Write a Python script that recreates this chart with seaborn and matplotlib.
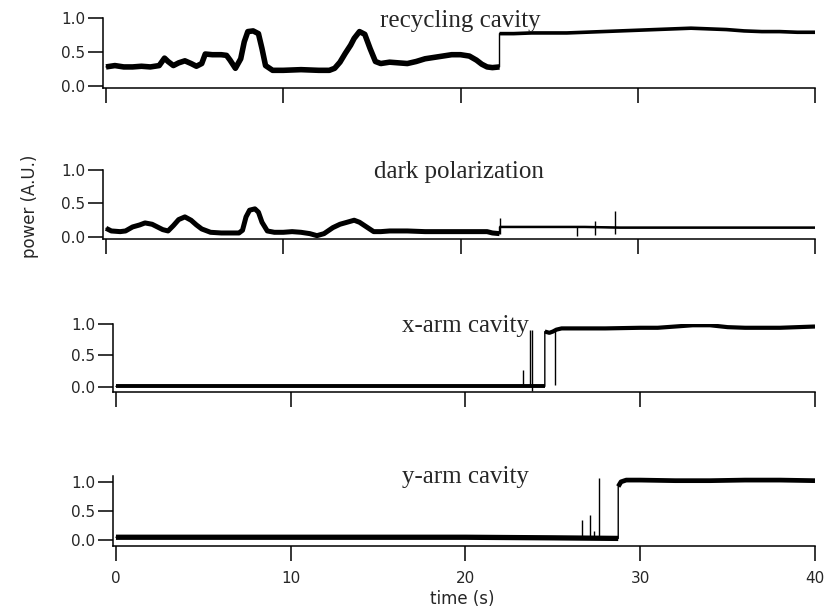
import numpy as np
import matplotlib.pyplot as plt
import seaborn as sns

# (time s, power A.U.); "before" = unlocked, "after" = locked
recycling_before = [(0, 0.28), (0.5, 0.30), (1.0, 0.28), (1.5, 0.28), (2.0, 0.29), (2.5, 0.28),
                    (3.0, 0.30), (3.3, 0.41), (3.5, 0.36), (3.8, 0.30), (4.1, 0.34), (4.45, 0.37),
                    (4.8, 0.33), (5.1, 0.29), (5.4, 0.33), (5.6, 0.47), (6.0, 0.46), (6.5, 0.46),
                    (6.8, 0.45), (7.0, 0.38), (7.3, 0.26), (7.6, 0.40), (7.8, 0.65), (8.0, 0.80),
                    (8.3, 0.81), (8.6, 0.77), (8.8, 0.55), (9.0, 0.30), (9.4, 0.23), (10, 0.23),
                    (11, 0.24), (12, 0.23), (12.6, 0.23), (12.9, 0.26), (13.2, 0.35), (13.5, 0.48),
                    (13.8, 0.60), (14.0, 0.70), (14.3, 0.80), (14.6, 0.76), (14.9, 0.55),
                    (15.2, 0.36), (15.5, 0.33), (16.0, 0.35), (16.5, 0.34), (17.0, 0.33),
                    (17.5, 0.36), (18.0, 0.40), (18.5, 0.42), (19.0, 0.44), (19.5, 0.46),
                    (20.0, 0.46), (20.5, 0.44), (20.9, 0.38), (21.2, 0.32), (21.5, 0.28),
                    (21.8, 0.27), (22.2, 0.28)]
recycling_after = [(22.2, 0.77), (23, 0.77), (24, 0.78), (25, 0.78), (26, 0.78), (27, 0.79),
                   (28, 0.80), (29, 0.81), (30, 0.82), (31, 0.83), (32, 0.84), (33, 0.85),
                   (34, 0.84), (35, 0.83), (36, 0.81), (37, 0.80), (38, 0.80), (39, 0.79), (40, 0.79)]
recycling_spikes = []

dark_before = [(0, 0.13), (0.3, 0.09), (0.8, 0.08), (1.1, 0.09), (1.5, 0.15), (1.9, 0.18),
               (2.2, 0.21), (2.6, 0.19), (2.9, 0.15), (3.2, 0.11), (3.5, 0.09), (3.8, 0.17),
               (4.1, 0.26), (4.45, 0.30), (4.8, 0.25), (5.1, 0.18), (5.4, 0.12), (5.9, 0.07),
               (6.5, 0.06), (7.0, 0.06), (7.5, 0.06), (7.7, 0.10), (7.9, 0.30), (8.1, 0.40),
               (8.4, 0.42), (8.6, 0.37), (8.8, 0.22), (9.1, 0.09), (9.5, 0.07), (10, 0.07),
               (10.5, 0.08), (11, 0.07), (11.5, 0.05), (11.9, 0.02), (12.3, 0.05), (12.8, 0.14),
               (13.2, 0.19), (13.6, 0.22), (14.0, 0.25), (14.3, 0.22), (14.7, 0.15), (15.1, 0.08),
               (15.5, 0.08), (16, 0.09), (17, 0.09), (18, 0.08), (19, 0.08), (20, 0.08),
               (21, 0.08), (21.5, 0.08), (21.8, 0.06), (22.2, 0.05)]
dark_after = [(22.2, 0.15), (23, 0.15), (25, 0.15), (27, 0.15), (29, 0.14), (31, 0.14),
              (33, 0.14), (35, 0.14), (37, 0.14), (40, 0.14)]
# (time, low, high)
dark_spikes = [(22.2, 0.05, 0.28), (26.55, 0.02, 0.15), (27.6, 0.03, 0.24), (28.7, 0.05, 0.39)]

xarm_before = [(0, 0.01), (5, 0.01), (10, 0.01), (15, 0.01), (20, 0.01), (23, 0.01), (24.54, 0.01)]
xarm_after = [(24.54, 0.88), (24.8, 0.86), (25.0, 0.88), (25.2, 0.91), (25.5, 0.93), (26, 0.93),
              (28, 0.93), (30, 0.94), (31, 0.94), (32, 0.96), (33, 0.98), (34, 0.98), (35, 0.95),
              (36, 0.94), (38, 0.94), (40, 0.96)]
xarm_spikes = [(23.3, 0.01, 0.27), (23.7, 0.01, 0.90), (23.8, -0.06, 0.91), (25.1, 0.03, 0.90)]

yarm_before = [(0, 0.05), (5, 0.05), (10, 0.05), (15, 0.05), (20, 0.05), (25, 0.04), (28.74, 0.03)]
yarm_after = [(28.74, 0.92), (28.9, 1.00), (29.2, 1.03), (30, 1.03), (32, 1.02), (34, 1.02),
              (36, 1.03), (38, 1.03), (40, 1.02)]
yarm_spikes = [(26.64, 0.04, 0.34), (27.12, 0.04, 0.43), (27.37, 0.04, 0.15), (27.63, 0.04, 1.06)]

titles = ['recycling cavity', 'dark polarization', 'x-arm cavity', 'y-arm cavity']
x_ticks = [0, 10, 20, 30, 40]
y_ticks = [0.0, 0.5, 1.0]

sns.set_style('ticks')
plt.rcParams['font.family'] = ['DejaVu Sans']

W, H = 835, 611
fig = plt.figure(figsize=(W / 100, H / 100), dpi=100)


def rect(left, right, top, bottom):
    return [left / W, 1 - bottom / H, (right - left) / W, (bottom - top) / H]


panels = [
    (recycling_before, recycling_after, recycling_spikes, rect(103, 815, 18, 88), (-0.03, 1.0), 4.0, 2.6),
    (dark_before, dark_after, dark_spikes, rect(103, 815, 170, 239), (-0.03, 1.0), 3.6, 1.8),
    (xarm_before, xarm_after, xarm_spikes, rect(113, 815, 324, 392), (-0.08, 1.0), 2.8, 3.0),
    (yarm_before, yarm_after, yarm_spikes, rect(113, 815, 476, 546), (-0.10, 1.1), 3.8, 3.4),
]
title_pos = [(460, 26.7), (459, 178.5), (465, 331.7), (465, 483.3)]

for i, (before, after, spikes, r, ylim, lw_b, lw_a) in enumerate(panels):
    ax = fig.add_axes(r)
    t_b, v_b = zip(*before)
    t_a, v_a = zip(*after)
    # thin full trace (gives the thin vertical step), then thick noisy bands
    sns.lineplot(x=list(t_b) + list(t_a), y=list(v_b) + list(v_a), ax=ax, color='black',
                 linewidth=1.0, estimator=None, sort=False)
    sns.lineplot(x=t_b, y=v_b, ax=ax, color='black', linewidth=lw_b, estimator=None,
                 sort=False, solid_capstyle='butt')
    sns.lineplot(x=t_a, y=v_a, ax=ax, color='black', linewidth=lw_a, estimator=None,
                 sort=False, solid_capstyle='butt')
    if spikes:
        st, lo, hi = zip(*spikes)
        ax.vlines(st, lo, hi, color='black', linewidth=1.0)

    ax.set_xlim(-0.17, 40)
    ax.set_ylim(*ylim)
    ax.set_xticks(x_ticks)
    ax.set_yticks(y_ticks)
    ax.set_yticklabels([f'{v:.1f}' for v in y_ticks], fontsize=11)
    if i == 3:
        ax.set_xticklabels([str(v) for v in x_ticks], fontsize=11)
    else:
        ax.set_xticklabels([])
    ax.tick_params(axis='both', direction='out', length=10.8, width=1.1, color='black')
    ax.tick_params(axis='y', pad=2)
    ax.tick_params(axis='x', pad=7)
    ax.set_xlabel('')
    ax.set_ylabel('')
    sns.despine(ax=ax)
    for s in ['left', 'bottom']:
        ax.spines[s].set_linewidth(1.1)
        ax.spines[s].set_color('black')
    ax.patch.set_alpha(0)

    tx, ty = title_pos[i]
    fig.text(tx / W, 1 - ty / H, titles[i], ha='center', va='baseline',
             fontsize=18, family='Liberation Serif')

fig.text(30 / W, 1 - 206 / H, 'power (A.U.)', rotation=90, ha='center', va='center', fontsize=12)
fig.text(462 / W, 1 - 599 / H, 'time (s)', ha='center', va='center', fontsize=12)

fig.savefig('out.png', dpi=100)
